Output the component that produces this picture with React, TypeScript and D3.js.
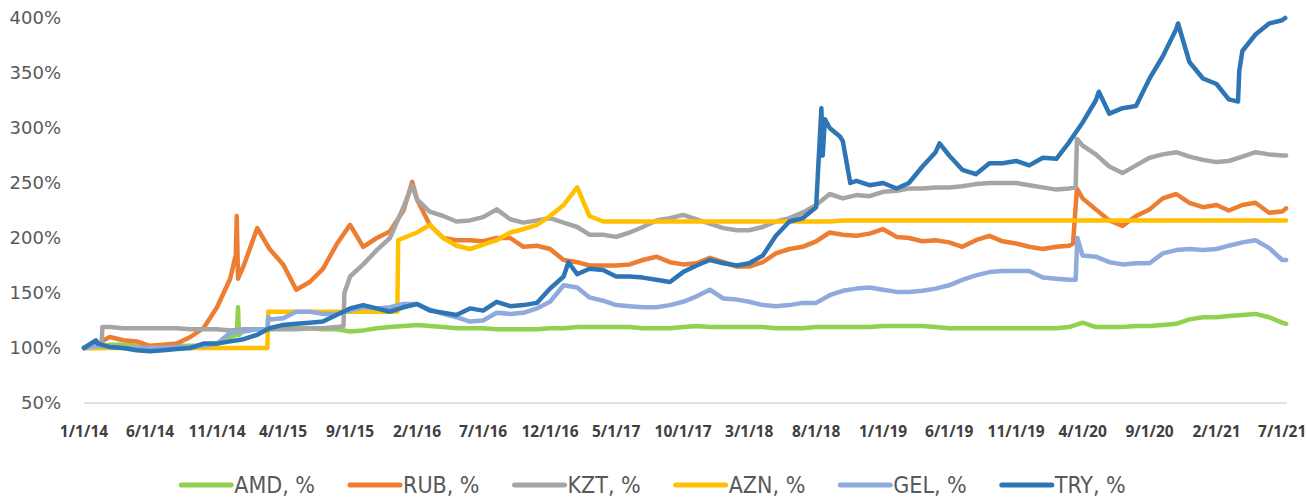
import * as d3 from "d3";

// monthly values, Jan 2014 .. Jul 2021 (index = month)
const months = d3.timeMonth.range(new Date(2014, 0, 1), new Date(2021, 7, 1));

const amd = [
  100, 101, 103, 103, 102, 101, 101, 102, 102, 102, 104, 110,
  116, 117, 117, 118, 118, 118, 117, 117, 115, 116, 118, 119,
  120, 121, 120, 119, 118, 118, 118, 117, 117, 117, 117, 118,
  118, 119, 119, 119, 119, 119, 118, 118, 118, 119, 120, 119,
  119, 119, 119, 119, 118, 118, 118, 119, 119, 119, 119, 119,
  120, 120, 120, 120, 119, 118, 118, 118, 118, 118, 118, 118,
  118, 118, 119, 123, 119, 119, 119, 120, 120, 121, 122, 126,
  128, 128, 129, 130, 131, 128, 123,
];
const rub = [
  100, 104, 110, 107, 106, 102, 103, 104, 110, 118, 137, 163,
  175, 209, 190, 176, 153, 160, 172, 194, 212, 192, 200, 206,
  225, 235, 212, 200, 198, 198, 197, 200, 200, 192, 193, 190,
  180, 178, 175, 175, 175, 176, 180, 183, 178, 176, 177, 182,
  178, 174, 174, 178, 186, 190, 192, 197, 205, 203, 202, 204,
  208, 201, 200, 197, 198, 196, 192, 198, 202, 197, 195, 192,
  190, 192, 193, 236, 226, 216, 211, 220, 226, 236, 240, 232,
  228, 230, 225, 230, 232, 223, 224,
];
const kzt = [
  100, 100, 119, 118, 118, 118, 118, 118, 117, 117, 117, 116,
  117, 117, 117, 117, 117, 118, 118, 119, 165, 176, 189, 200,
  228, 235, 224, 220, 215, 216, 219, 226, 217, 214, 216, 218,
  214, 210, 203, 203, 201, 205, 210, 216, 218, 221, 217, 213,
  209, 207, 207, 210, 215, 218, 223, 230, 240, 236, 239, 238,
  242, 243, 245, 245, 246, 246, 247, 249, 250, 250, 250, 248,
  246, 244, 245, 284, 276, 265, 259, 266, 273, 276, 278, 274,
  271, 269, 270, 274, 278, 276, 275,
];
const azn = [
  100, 100, 100, 100, 100, 100, 100, 100, 100, 100, 100, 100,
  100, 100, 133, 133, 133, 133, 133, 133, 133, 133, 133, 133,
  200, 205, 212, 200, 193, 190, 194, 198, 205, 208, 212, 220,
  230, 246, 220, 215, 215, 215, 215, 215, 215, 215, 215, 215,
  215, 215, 215, 215, 215, 215, 215, 215, 215, 216, 216, 216,
  216, 216, 216, 216, 216, 216, 216, 216, 216, 216, 216, 216,
  216, 216, 216, 216, 216, 216, 216, 216, 216, 216, 216, 216,
  216, 216, 216, 216, 216, 216, 216,
];
const gel = [
  100, 102, 101, 100, 100, 100, 100, 101, 101, 102, 104, 114,
  115, 117, 126, 127, 133, 133, 131, 131, 134, 137, 136, 137,
  140, 140, 135, 131, 128, 124, 125, 132, 131, 132, 136, 142,
  157, 155, 146, 143, 139, 138, 137, 137, 139, 142, 147, 153,
  145, 144, 142, 139, 138, 139, 141, 141, 148, 152, 154, 155,
  153, 151, 151, 152, 154, 157, 162, 166, 169, 170, 170, 170,
  164, 163, 162, 184, 183, 178, 176, 177, 177, 186, 189, 190,
  189, 190, 193, 196, 198, 191, 180,
];
const tryV = [
  100, 104, 101, 100, 98, 97, 98, 99, 100, 104, 104, 106,
  108, 112, 118, 121, 122, 123, 124, 130, 136, 139, 136, 133,
  137, 140, 134, 132, 130, 136, 134, 142, 138, 139, 141, 154,
  165, 167, 172, 171, 165, 165, 164, 162, 160, 169, 175, 180,
  177, 175, 177, 184, 202, 215, 218, 228, 300, 288, 252, 248,
  250, 245, 250, 265, 278, 275, 262, 258, 268, 268, 270, 266,
  273, 272, 287, 305, 325, 313, 318, 320, 345, 365, 390, 360,
  345, 340, 326, 370, 385, 395, 398,
];

// jumps and spikes between month starts
const amdExtra: [string, number][] = [["2014-12-16", 112], ["2014-12-19", 137], ["2014-12-21", 112], ["2021-07-10", 122]];
const rubExtra: [string, number][] = [["2014-12-14", 185], ["2014-12-16", 220], ["2014-12-19", 163], ["2016-01-21", 251], ["2020-03-10", 195], ["2020-03-19", 245], ["2021-07-10", 227]];
const kztExtra: [string, number][] = [["2014-02-10", 100], ["2014-02-12", 119], ["2015-08-17", 120], ["2015-08-19", 150], ["2016-01-21", 248], ["2020-03-16", 246], ["2020-03-19", 290], ["2021-07-10", 275]];
const aznExtra: [string, number][] = [["2015-02-24", 100], ["2015-02-26", 133], ["2015-12-18", 133], ["2015-12-20", 198], ["2021-07-10", 216]];
const gelExtra: [string, number][] = [["2015-02-24", 117], ["2015-02-26", 128], ["2020-03-16", 162], ["2020-03-20", 200], ["2021-07-10", 180]];
const tryExtra: [string, number][] = [["2014-01-28", 107], ["2017-01-12", 178], ["2018-08-13", 318], ["2018-08-16", 275], ["2018-08-21", 308], ["2018-09-25", 292], ["2018-10-18", 250], ["2019-05-10", 286], ["2020-05-08", 333], ["2020-11-05", 395], ["2021-03-22", 324], ["2021-03-25", 352], ["2021-07-08", 400]];

const seriesNames = ["AMD, %", "RUB, %", "KZT, %", "AZN, %", "GEL, %", "TRY, %"];
const seriesColors = ["#92d050", "#ed7d31", "#a5a5a5", "#ffc000", "#8faadc", "#2e75b6"];
const seriesValues = [amd, rub, kzt, azn, gel, tryV];
const seriesExtras = [amdExtra, rubExtra, kztExtra, aznExtra, gelExtra, tryExtra];

const yTicks = [50, 100, 150, 200, 250, 300, 350, 400];
const xTickLabels = ["1/1/14", "6/1/14", "11/1/14", "4/1/15", "9/1/15", "2/1/16", "7/1/16", "12/1/16", "5/1/17", "10/1/17", "3/1/18", "8/1/18", "1/1/19", "6/1/19", "11/1/19", "4/1/20", "9/1/20", "2/1/21", "7/1/21"];

const W = 1307;
const H = 498;
const parse = d3.timeParse("%Y-%m-%d");
const parseTick = d3.timeParse("%m/%d/%y");
const legendFont = "'Liberation Sans Narrow', 'DejaVu Sans Condensed', 'Arial Narrow', sans-serif";

function measure(text: string, font: string) {
  const c = document.createElement("canvas").getContext("2d")!;
  c.font = font;
  return c.measureText(text).width;
}

export default function App() {
  const x = d3
    .scaleTime()
    .domain([new Date(2014, 0, 1), new Date(2021, 6, 12)])
    .range([84, 1287]);
  const y = d3.scaleLinear().domain([50, 400]).range([403, 18]);

  const line = d3
    .line<[Date, number]>()
    .x((d) => x(d[0]))
    .y((d) => y(d[1]));

  const paths = seriesValues.map((vals, i) => {
    const pts: [Date, number][] = vals.map((v, m) => [months[m], v]);
    seriesExtras[i].forEach(([s, v]) => pts.push([parse(s)!, v]));
    pts.sort((a, b) => +a[0] - +b[0]);
    return line(pts)!;
  });

  // legend layout, centred
  const fontSize = 23;
  const sample = 50;
  const gap = 3;
  const spacing = 35;
  const widths = seriesNames.map((n) => measure(n, `${fontSize}px ${legendFont}`));
  const total = widths.reduce((a, w) => a + sample + gap + w, 0) + spacing * (seriesNames.length - 1);
  let lx = (W - total) / 2;
  const legendItems = seriesNames.map((n, i) => {
    const item = { name: n, x: lx, color: seriesColors[i] };
    lx += sample + gap + widths[i] + spacing;
    return item;
  });

  return (
    <svg width={W} height={H} style={{ position: "absolute", left: 0, top: 0, background: "#fff" }}>
      <line x1={84} x2={1287} y1={y(50)} y2={y(50)} stroke="#d9d9d9" strokeWidth={1.5} />
      {yTicks.map((t) => (
        <text key={t} x={61} y={y(t)} dy="0.35em" textAnchor="end" fontFamily="'DejaVu Sans', sans-serif" fontSize={18} fill="#595959">
          {t}%
        </text>
      ))}
      {xTickLabels.map((l) => (
        <text key={l} x={x(parseTick(l)!)} y={437} textAnchor="middle" fontFamily="'Open Sans', sans-serif" fontWeight={700} fontSize={15.5} fill="#404040">
          {l}
        </text>
      ))}
      {paths.map((d, i) => (
        <path key={i} d={d} fill="none" stroke={seriesColors[i]} strokeWidth={4.5} strokeLinejoin="round" strokeLinecap="round" />
      ))}
      {legendItems.map((it) => (
        <g key={it.name}>
          <line x1={it.x} x2={it.x + sample} y1={485} y2={485} stroke={it.color} strokeWidth={5} strokeLinecap="round" />
          <text x={it.x + sample + gap} y={493} fontFamily={legendFont} fontSize={fontSize} fill="#595959">
            {it.name}
          </text>
        </g>
      ))}
    </svg>
  );
}
